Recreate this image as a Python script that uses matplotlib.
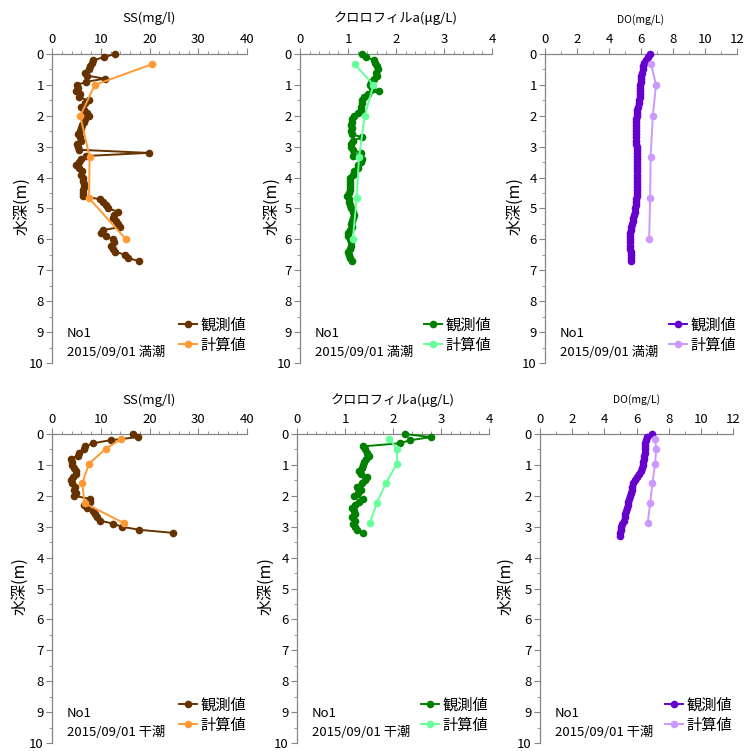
import matplotlib
matplotlib.use("Agg")
import matplotlib.pyplot as plt
from matplotlib.ticker import MultipleLocator

plt.rcParams['font.family'] = ['Noto Sans CJK JP', 'DejaVu Sans']

# ---------------- data ----------------
depth_hi_obs = [0.0, 0.1, 0.2, 0.3, 0.4, 0.5, 0.6, 0.7, 0.8, 0.9,
                1.0, 1.1, 1.2, 1.3, 1.4, 1.5, 1.6, 1.7, 1.8, 1.9,
                2.0, 2.1, 2.2, 2.3, 2.4, 2.5, 2.6, 2.7, 2.8, 2.9,
                3.0, 3.1, 3.2, 3.3, 3.4, 3.5, 3.6, 3.7, 3.8, 3.9,
                4.0, 4.1, 4.2, 4.3, 4.4, 4.5, 4.6, 4.7, 4.8, 4.9,
                5.0, 5.1, 5.2, 5.3, 5.4, 5.5, 5.6, 5.7, 5.8, 5.9,
                6.0, 6.1, 6.2, 6.3, 6.4, 6.5, 6.6, 6.7]
depth_hi_calc = [0.33, 1.0, 2.0, 3.33, 4.67, 6.0]

depth_lo_obs = [0.0, 0.1, 0.2, 0.3, 0.4, 0.5, 0.6, 0.7, 0.8, 0.9,
                1.0, 1.1, 1.2, 1.3, 1.4, 1.5, 1.6, 1.7, 1.8, 1.9,
                2.0, 2.1, 2.2, 2.3, 2.4, 2.5, 2.6, 2.7, 2.8, 2.9,
                3.0, 3.1, 3.2]
depth_lo_do_obs = [0.0, 0.1, 0.2, 0.3, 0.4, 0.5, 0.6, 0.7, 0.8, 0.9,
                   1.0, 1.1, 1.2, 1.3, 1.4, 1.5, 1.6, 1.7, 1.8, 1.9,
                   2.0, 2.1, 2.2, 2.3, 2.4, 2.5, 2.6, 2.7, 2.8, 2.9,
                   3.0, 3.1, 3.2, 3.3]
depth_lo_calc = [0.16, 0.48, 0.96, 1.6, 2.24, 2.88]

# SS (mg/l) - high tide
ss_hi_obs = [13.0, 10.7, 8.5, 8.2, 7.8, 7.5, 6.8, 7.2, 10.8, 7.0,
             5.2, 5.3, 4.9, 5.8, 5.5, 7.5, 6.8, 6.0, 6.5, 7.2,
             7.5, 6.8, 6.5, 6.2, 6.0, 5.8, 5.3, 5.8, 6.0, 5.2,
             5.3, 5.5, 19.8, 7.0, 6.0, 5.5, 5.0, 5.5, 6.2, 6.0,
             6.3, 6.3, 6.5, 6.5, 6.3, 6.4, 6.3, 9.8, 10.5, 11.0,
             11.5, 13.5, 12.8, 12.5, 13.2, 13.5, 14.0, 10.5, 10.0, 11.0,
             12.5, 12.8, 12.2, 12.5, 13.0, 15.0, 15.5, 17.8]
ss_hi_calc = [20.5, 8.8, 5.8, 7.7, 7.6, 15.2]

# SS (mg/l) - low tide
ss_lo_obs = [16.6, 17.7, 12.0, 8.4, 6.8, 6.6, 5.5, 5.3, 3.9, 4.0,
             4.0, 4.5, 5.0, 5.0, 4.3, 3.9, 4.2, 4.8, 4.6, 5.0,
             4.5, 7.8, 7.8, 6.5, 7.2, 8.5, 8.8, 9.2, 9.8, 12.5,
             14.3, 17.9, 24.8]
ss_lo_calc = [14.2, 11.0, 7.6, 6.2, 6.7, 14.7]

# Chlorophyll-a (ug/L) - high tide
chl_hi_obs = [1.29, 1.37, 1.55, 1.56, 1.60, 1.62, 1.58, 1.60, 1.55, 1.48,
              1.46, 1.50, 1.64, 1.41, 1.34, 1.30, 1.29, 1.28, 1.27, 1.20,
              1.13, 1.09, 1.08, 1.07, 1.08, 1.07, 1.09, 1.30, 1.10, 1.07,
              1.06, 1.10, 1.27, 1.10, 1.29, 1.28, 1.20, 1.20, 1.12, 1.10,
              1.05, 1.04, 1.05, 1.05, 1.05, 1.03, 0.98, 1.03, 1.02, 1.05,
              1.06, 1.10, 1.12, 1.10, 1.08, 1.07, 1.08, 1.05, 1.00, 0.99,
              1.05, 1.07, 1.07, 1.05, 1.00, 1.02, 1.04, 1.08]
chl_hi_calc = [1.14, 1.53, 1.35, 1.23, 1.18, 1.10]

# Chlorophyll-a (ug/L) - low tide
chl_lo_obs = [2.24, 2.80, 2.36, 2.14, 1.38, 1.42, 1.45, 1.50, 1.43, 1.40,
              1.38, 1.36, 1.30, 1.33, 1.45, 1.42, 1.35, 1.25, 1.33, 1.27,
              1.18, 1.38, 1.30, 1.20, 1.15, 1.18, 1.20, 1.15, 1.20, 1.17,
              1.20, 1.25, 1.38]
chl_lo_calc = [1.92, 2.09, 2.08, 1.85, 1.66, 1.52]

# DO (mg/L) - high tide
do_hi_obs = [6.55, 6.45, 6.30, 6.16, 6.12, 6.10, 6.06, 6.03, 6.00, 5.98,
             5.96, 5.95, 5.94, 5.93, 5.92, 5.90, 5.88, 5.80, 5.76, 5.74,
             5.72, 5.71, 5.70, 5.69, 5.69, 5.69, 5.70, 5.70, 5.71, 5.71,
             5.72, 5.72, 5.73, 5.73, 5.74, 5.75, 5.75, 5.75, 5.75, 5.75,
             5.75, 5.74, 5.74, 5.73, 5.73, 5.72, 5.72, 5.71, 5.70, 5.68,
             5.64, 5.60, 5.56, 5.52, 5.48, 5.44, 5.40, 5.36, 5.33, 5.31,
             5.30, 5.30, 5.31, 5.33, 5.35, 5.37, 5.38, 5.40]
do_hi_calc = [6.63, 6.94, 6.74, 6.60, 6.57, 6.51]

# DO (mg/L) - low tide
do_lo_obs = [6.95, 6.65, 6.56, 6.53, 6.52, 6.51, 6.50, 6.48, 6.45, 6.42,
             6.38, 6.33, 6.28, 6.18, 6.02, 5.90, 5.80, 5.74, 5.69, 5.65,
             5.60, 5.55, 5.50, 5.45, 5.40, 5.35, 5.31, 5.27, 5.22, 5.12,
             5.06, 5.02, 4.98, 4.95]
do_lo_calc = [7.16, 7.22, 7.16, 6.99, 6.85, 6.70]

series_labels = ['観測値', '計算値']
station = 'No1'
date_hi = '2015/09/01 満潮'
date_lo = '2015/09/01 干潮'
ylabel = '水深(m)'

# ---------------- layout ----------------
W, H = 745, 751
fig = plt.figure(figsize=(W / 100, H / 100), dpi=100)

def px_axes(l, r, t, b):
    return fig.add_axes([l / W, 1 - b / H, (r - l) / W, (b - t) / H])

GRID = '#868686'

panels = [
    (52, 247, 54, 363, 'SS(mg/l)', 9.5, 40, 10, 2, ss_hi_obs, depth_hi_obs, ss_hi_calc, depth_hi_calc, '#663300', '#FF9933', date_hi, 22, 18),
    (300, 492, 54, 363, 'クロロフィルa(μg/L)', 9.5, 4, 1, 0.2, chl_hi_obs, depth_hi_obs, chl_hi_calc, depth_hi_calc, '#008000', '#66FF99', date_hi, 272, 18),
    (545, 737, 54, 363, 'DO(mg/L)', 7.5, 12, 2, 1, do_hi_obs, depth_hi_obs, do_hi_calc, depth_hi_calc, '#6600CC', '#CC99FF', date_hi, 515, 20),
    (52, 247, 434, 743, 'SS(mg/l)', 9.5, 40, 10, 2, ss_lo_obs, depth_lo_obs, ss_lo_calc, depth_lo_calc, '#663300', '#FF9933', date_lo, 20, 400),
    (297, 489, 434, 743, 'クロロフィルa(μg/L)', 9.5, 4, 1, 0.2, chl_lo_obs, depth_lo_obs, chl_lo_calc, depth_lo_calc, '#008000', '#66FF99', date_lo, 266, 400),
    (540, 733, 434, 743, 'DO(mg/L)', 7.5, 12, 2, 1, do_lo_obs, depth_lo_do_obs, do_lo_calc, depth_lo_calc, '#6600CC', '#CC99FF', date_lo, 506, 400),
]

for (l, r, t, b, title, tsize, xmax, major, minor, ox, oy, cx, cy,
     c_obs, c_calc, note, ylx, ty) in panels:
    ax = px_axes(l, r, t, b)
    ax.plot(ox, oy, '-o', color=c_obs, lw=1.4, ms=5.5, mew=0, label=series_labels[0], clip_on=False, zorder=3)
    ax.plot(cx, cy, '-o', color=c_calc, lw=1.4, ms=5.5, mew=0, label=series_labels[1], clip_on=False, zorder=4)
    ax.set_xlim(0, xmax)
    ax.set_ylim(10, 0)
    ax.xaxis.tick_top()
    ax.xaxis.set_major_locator(MultipleLocator(major))
    ax.xaxis.set_minor_locator(MultipleLocator(minor))
    ax.yaxis.set_major_locator(MultipleLocator(1))
    ax.yaxis.set_minor_locator(MultipleLocator(0.5))
    for s in ['right', 'bottom']:
        ax.spines[s].set_visible(False)
    for s in ['left', 'top']:
        ax.spines[s].set_color(GRID)
        ax.spines[s].set_linewidth(0.9)
    ax.tick_params(which='major', direction='out', length=4, width=0.8, color=GRID,
                   labelsize=9.5, pad=2)
    ax.tick_params(which='minor', direction='out', length=2.5, width=0.6, color=GRID)
    ax.tick_params(axis='x', which='both', top=True, bottom=False)
    ax.set_facecolor('none')
    fig.text((l + r) / 2 / W, 1 - ty / H, title, fontsize=tsize, ha='center', va='center')
    fig.text(ylx / W, 1 - ((t + b) / 2 - 2) / H, ylabel, fontsize=11.5, rotation=90,
             ha='center', va='center')
    ax.text(0.077, 0.097, station, transform=ax.transAxes, fontsize=9.5, va='center', ha='left')
    ax.text(0.077, 0.035, note, transform=ax.transAxes, fontsize=9.5, va='center', ha='left')
    ax.legend(loc='lower right', bbox_to_anchor=(1.01, 0.02), frameon=False, fontsize=11,
              handlelength=1.2, handletextpad=0.2, labelspacing=0.2, borderpad=0.2,
              borderaxespad=0)

fig.savefig('out.png', dpi=100)
